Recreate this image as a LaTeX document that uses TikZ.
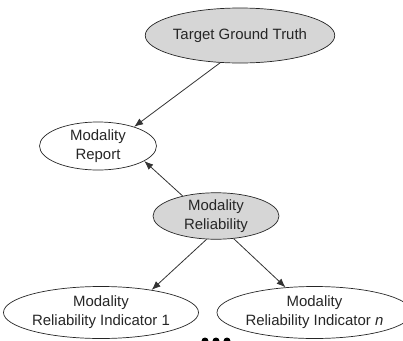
\documentclass[tikz,border=0pt]{standalone}
\usepackage{fontspec}
\setmainfont{Liberation Sans}
\usetikzlibrary{shapes.geometric,arrows.meta}
\definecolor{nodegray}{RGB}{214,214,214}
\begin{document}
\begin{tikzpicture}[x=1bp,y=-1bp,
  every node/.style={font=\fontsize{15}{19}\selectfont, align=center, text=black!85},
  bn/.style={ellipse, draw=black!85, line width=0.7bp, inner sep=0pt},
  obs/.style={bn, fill=white},
  hid/.style={bn, fill=nodegray},
  edge/.style={draw=black!80, line width=0.8bp, -{Latex[length=9bp,width=7bp]}}]
\useasboundingbox (0,0) rectangle (403,341);
\clip (0,0) rectangle (403,341);
\node[hid, minimum width=164bp, minimum height=55bp] (tgt) at (240,35.5) {Target Ground Truth};
\node[obs, minimum width=117bp, minimum height=48bp] (rep) at (98,146) {Modality\\Report};
\node[hid, minimum width=126bp, minimum height=45bp] (rel) at (216,216) {Modality\\Reliability};
\node[obs, minimum width=182bp, minimum height=52bp] (ind1) at (101,312.5) {Modality\\Reliability Indicator 1};
\node[obs, minimum width=176bp, minimum height=52bp] (indn) at (314.5,312.5) {Modality\\Reliability Indicator \textit{n}};
\draw[edge] (tgt.234) -- (rep.28);
\draw[edge] (rel.149) -- (rep.342);
\draw[edge] (rel.248) -- (ind1.24);
\draw[edge] (rel.308) -- (indn.139);
\foreach \i/\x in {1/205,2/216,3/227}
  \fill[black] (\x,341) circle (3.5bp) coordinate (dot\i);
\end{tikzpicture}
\end{document}
